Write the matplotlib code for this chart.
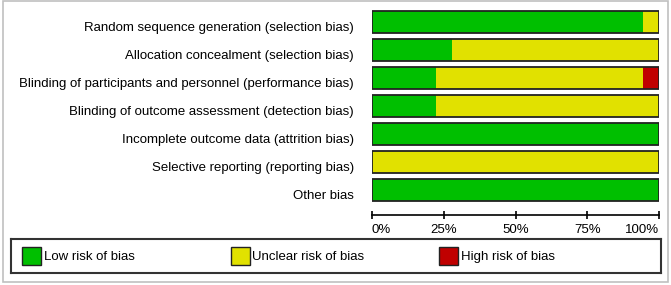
import matplotlib.pyplot as plt
from matplotlib.patches import Rectangle
from matplotlib.transforms import ScaledTranslation

plt.rcParams['font.family'] = ['Liberation Sans', 'DejaVu Sans']

# risk of bias domains (top to bottom)
domains = [
    'Random sequence generation (selection bias)',
    'Allocation concealment (selection bias)',
    'Blinding of participants and personnel (performance bias)',
    'Blinding of outcome assessment (detection bias)',
    'Incomplete outcome data (attrition bias)',
    'Selective reporting (reporting bias)',
    'Other bias',
]
# percentages of studies
low = [94.4, 27.8, 22.2, 22.2, 100, 0, 100]
unclear = [5.6, 72.2, 72.2, 77.8, 0, 100, 0]
high = [0, 0, 5.6, 0, 0, 0, 0]

categories = ['Low risk of bias', 'Unclear risk of bias', 'High risk of bias']
colors = ['#00bf00', '#e1e100', '#c00000']
xticks = [0, 25, 50, 75, 100]
xticklabels = ['0%', '25%', '50%', '75%', '100%']

W, H = 671, 285
fig = plt.figure(figsize=(W / 100, H / 100), dpi=100)

# main axes
ax = fig.add_axes([372 / W, (H - 204) / H, 287 / W, 196 / H])
# move spine first (set_position resets the ticks)
for s in ['top', 'right', 'left']:
    ax.spines[s].set_visible(False)
ax.spines['bottom'].set_position(('outward', 8))
ax.spines['bottom'].set_linewidth(1.2)

y = list(range(len(domains)))
left = [0] * len(domains)
for vals, c in zip([low, unclear, high], colors):
    ax.barh(y, vals, left=left, height=0.78, color=c, edgecolor='none')
    left = [l + v for l, v in zip(left, vals)]
# outline around each full bar
ax.barh(y, left, height=0.78, facecolor='none', edgecolor='#222222', linewidth=1.3)

ax.set_xlim(0, 100)
ax.set_ylim(len(domains) - 0.5, -0.5)
ax.set_yticks(y)
ax.set_yticklabels(domains, fontsize=9.5)
ax.tick_params(axis='y', length=0, pad=13)
shift = ScaledTranslation(0, -4.5 / 100, fig.dpi_scale_trans)
for lbl in ax.get_yticklabels():
    lbl.set_transform(lbl.get_transform() + shift)

ax.set_xticks(xticks)
ax.set_xticklabels(xticklabels, fontsize=9.5)
ax.tick_params(axis='x', direction='inout', length=5.8, width=1.2, pad=3.5)
xl = ax.get_xticklabels()
xl[0].set_ha('left')
xl[-1].set_ha('right')

# legend box
lax = fig.add_axes([11 / W, (H - 273) / H, 650 / W, 34 / H])
lax.set_xlim(0, 650)
lax.set_ylim(34, 0)
lax.set_xticks([])
lax.set_yticks([])
for s in lax.spines.values():
    s.set_linewidth(1.5)
    s.set_edgecolor('#333333')
for i, (lab, c) in enumerate(zip(categories, colors)):
    x0 = 11 + i * 208.5
    lax.add_patch(Rectangle((x0, 8), 19, 18, facecolor=c, edgecolor='#222222', linewidth=1))
    lax.text(x0 + 22, 18, lab, fontsize=9.5, va='center', ha='left')

# light outer border
fig.patches.append(Rectangle((3 / W, 3 / H), 665 / W, 281 / H, transform=fig.transFigure,
                             fill=False, edgecolor='#c0c0c0', linewidth=1.2))

fig.savefig('out.png', dpi=100)
